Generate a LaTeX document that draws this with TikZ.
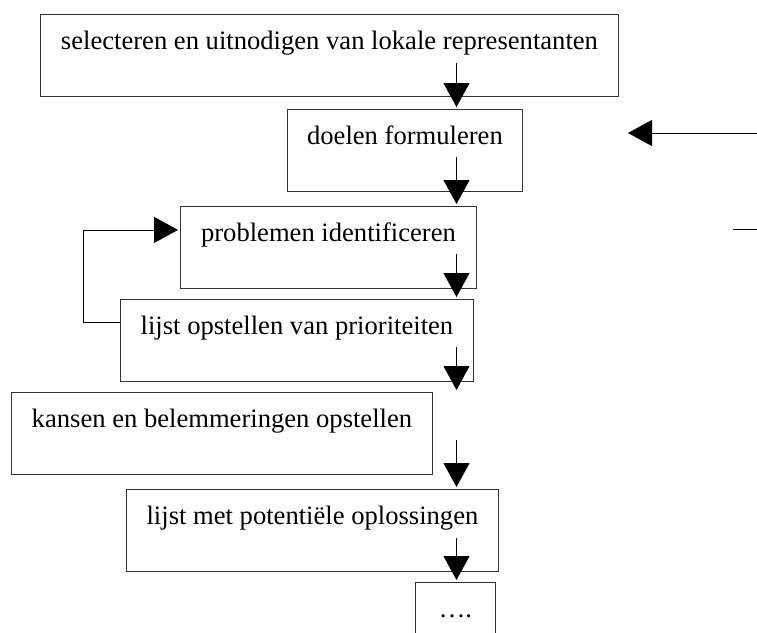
\documentclass[tikz,border=0pt]{standalone}
\usepackage{fontspec}
\setmainfont{Liberation Serif}
\usetikzlibrary{arrows.meta}
\tikzset{
  stepbox/.style={draw=black!80, line width=0.9pt, anchor=north west,
    inner xsep=0pt, inner ysep=0pt, text height=35pt, text depth=47pt,
    font=\fontsize{26.6}{30}\selectfont},
  flow/.style={-{Triangle[length=24pt,width=26pt]}, draw=black, line width=0.9pt, shorten >=2pt},
  plain/.style={draw=black, line width=0.9pt}
}

\begin{document}
\begin{tikzpicture}[x=1pt,y=-1pt]
  \clip (0,0) rectangle (757,632);
  % Steps of the procedure
  \node[stepbox, minimum width=578pt] (select) at (40,14) {selecteren en uitnodigen van lokale representanten};
  \node[stepbox, minimum width=235pt] (goals) at (287,109) {doelen formuleren};
  \node[stepbox, minimum width=296pt] (problems) at (180,206) {problemen identificeren};
  \node[stepbox, minimum width=353pt] (priorities) at (120,299) {lijst opstellen van prioriteiten};
  \node[stepbox, minimum width=421pt] (chances) at (11,392) {kansen en belemmeringen opstellen};
  \node[stepbox, minimum width=372pt] (solutions) at (126,489) {lijst met potentiële oplossingen};
  \node[stepbox, minimum width=80pt] (more) at (415,582) {….};

  % Arrows down the column
  \coordinate (s1) at (456.5,62.5);
  \coordinate (s2) at (456.5,157);
  \coordinate (s3) at (456.5,254);
  \coordinate (s4) at (456.5,347);
  \coordinate (s5) at (456.5,440);
  \coordinate (s6) at (456.5,538);
  \draw[flow] (s1) -- (s1 |- goals.north);
  \draw[flow] (s2) -- (s2 |- problems.north);
  \draw[flow] (s3) -- (s3 |- priorities.north);
  \draw[flow] (s4) -- (s4 |- chances.north);
  \draw[flow] (s5) -- (s5 |- solutions.north);
  \draw[flow] (s6) -- (s6 |- more.north);

  % Loop back from priorities to problems
  \draw[flow] ([yshift=18pt]priorities.west) -- ++(-37,0) |- ([yshift=17.5pt]problems.west);

  % Lines on the right
  \coordinate (inR) at (757,133);
  \coordinate (inRtip) at (628,133);
  \draw[flow, shorten >=0pt] (inR) -- (inRtip);
  \coordinate (outR) at (733,229);
  \coordinate (outRend) at (757,229);
  \draw[plain] (outR) -- (outRend);
\end{tikzpicture}
\end{document}
